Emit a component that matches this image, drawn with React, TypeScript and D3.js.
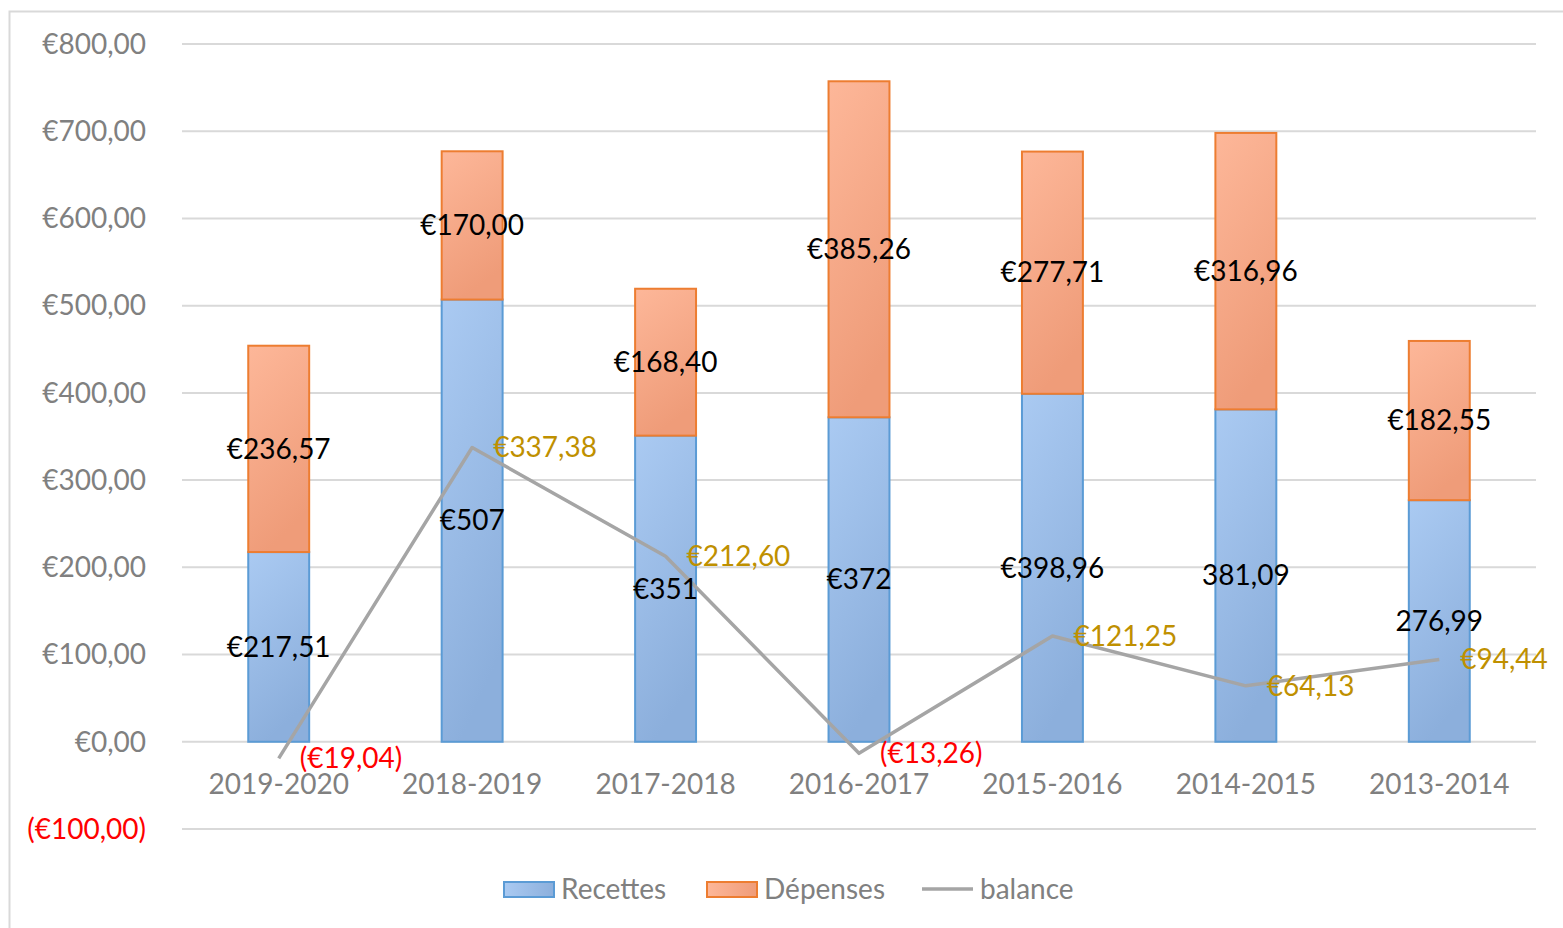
import React from "react";
import * as d3 from "d3";

const categories = ["2019-2020", "2018-2019", "2017-2018", "2016-2017", "2015-2016", "2014-2015", "2013-2014"];
const recettes = [217.51, 507, 351, 372, 398.96, 381.09, 276.99];
const recettesLabels = ["€217,51", "€507", "€351", "€372", "€398,96", "381,09", "276,99"];
const depenses = [236.57, 170.0, 168.4, 385.26, 277.71, 316.96, 182.55];
const balance = [-19.04, 337.38, 212.6, -13.26, 121.25, 64.13, 94.44];
const yTicks = [-100, 0, 100, 200, 300, 400, 500, 600, 700, 800];
const legendItems = ["Recettes", "Dépenses", "balance"];

const W = 1563;
const H = 928;
const FONT = "Lato, 'Open Sans', sans-serif";
const FS = 28;

function euro(v: number): string {
  const s = "€" + d3.format(",.2f")(Math.abs(v)).replace(/,/g, " ").replace(".", ",");
  return v < 0 ? "(" + s + ")" : s;
}

export default function App() {
  const x = d3.scaleBand<string>().domain(categories).range([182, 1536]).paddingInner(0.685).paddingOuter(0.3425);
  const y = d3.scaleLinear().domain([-100, 800]).range([829, 44]);
  const bw = x.bandwidth();
  const cx = (c: string) => (x(c) as number) + bw / 2;
  const line = d3
    .line<number>()
    .x((_, i) => cx(categories[i]))
    .y((d) => y(d));

  return (
    <svg width={W} height={H} style={{ position: "absolute", left: 0, top: 0, background: "#fff" }} fontFamily={FONT}>
      <defs>
        <linearGradient id="gBlue" x1="0" y1="0" x2="0.3" y2="1">
          <stop offset="0" stopColor="#aacaf2" />
          <stop offset="1" stopColor="#8cafdc" />
        </linearGradient>
        <linearGradient id="gOrange" x1="0" y1="0" x2="0.3" y2="1">
          <stop offset="0" stopColor="#fdb799" />
          <stop offset="1" stopColor="#ef9c79" />
        </linearGradient>
        <linearGradient id="gBlueH" x1="0" y1="0" x2="1" y2="0">
          <stop offset="0" stopColor="#aacaf2" />
          <stop offset="1" stopColor="#8cafdc" />
        </linearGradient>
        <linearGradient id="gOrangeH" x1="0" y1="0" x2="1" y2="0">
          <stop offset="0" stopColor="#fdb799" />
          <stop offset="1" stopColor="#ef9c79" />
        </linearGradient>
      </defs>
      <rect x={9.5} y={11.5} width={W + 10} height={H + 10} fill="#fff" stroke="#d9d9d9" strokeWidth={2} />

      {yTicks.map((t) => (
        <g key={t}>
          <line x1={182} x2={1536} y1={y(t)} y2={y(t)} stroke="#d9d9d9" strokeWidth={2} />
          <text
            x={146}
            y={y(t)}
            dy="0.35em"
            textAnchor="end"
            fontSize={FS}
            fill={t < 0 ? "#ff0000" : "#808080"}
          >
            {euro(t)}
          </text>
        </g>
      ))}

      {categories.map((c, i) => {
        const x0 = x(c) as number;
        const r = recettes[i];
        const d = depenses[i];
        return (
          <g key={c}>
            <rect x={x0} y={y(r)} width={bw} height={y(0) - y(r)} fill="url(#gBlue)" stroke="#5b9bd5" strokeWidth={2} />
            <rect x={x0} y={y(r + d)} width={bw} height={y(r) - y(r + d)} fill="url(#gOrange)" stroke="#ed7d31" strokeWidth={2} />
          </g>
        );
      })}

      <path d={line(balance) || ""} fill="none" stroke="#a5a5a5" strokeWidth={3.5} strokeLinejoin="round" />

      {categories.map((c, i) => {
        const r = recettes[i];
        const d = depenses[i];
        const b = balance[i];
        return (
          <g key={"l" + c} fontSize={FS}>
            <text x={cx(c)} y={y(r / 2)} dy="0.35em" textAnchor="middle" fill="#000">
              {recettesLabels[i]}
            </text>
            <text x={cx(c)} y={y(r + d / 2)} dy="0.35em" textAnchor="middle" fill="#000">
              {euro(d)}
            </text>
            <text x={cx(c) + 21} y={y(b)} dy="0.35em" textAnchor="start" fill={b < 0 ? "#ff0000" : "#bf9000"}>
              {euro(b)}
            </text>
            <text x={cx(c)} y={784} dy="0.35em" textAnchor="middle" fill="#808080">
              {c}
            </text>
          </g>
        );
      })}

      <g fontSize={FS} fill="#808080">
        <rect x={504} y={882} width={50} height={15} fill="url(#gBlueH)" stroke="#5b9bd5" strokeWidth={2} />
        <text x={561} y={889} dy="0.35em">{legendItems[0]}</text>
        <rect x={707} y={882} width={50} height={15} fill="url(#gOrangeH)" stroke="#ed7d31" strokeWidth={2} />
        <text x={764} y={889} dy="0.35em">{legendItems[1]}</text>
        <line x1={922} x2={973} y1={889} y2={889} stroke="#a5a5a5" strokeWidth={3.5} />
        <text x={980} y={889} dy="0.35em">{legendItems[2]}</text>
      </g>
    </svg>
  );
}
